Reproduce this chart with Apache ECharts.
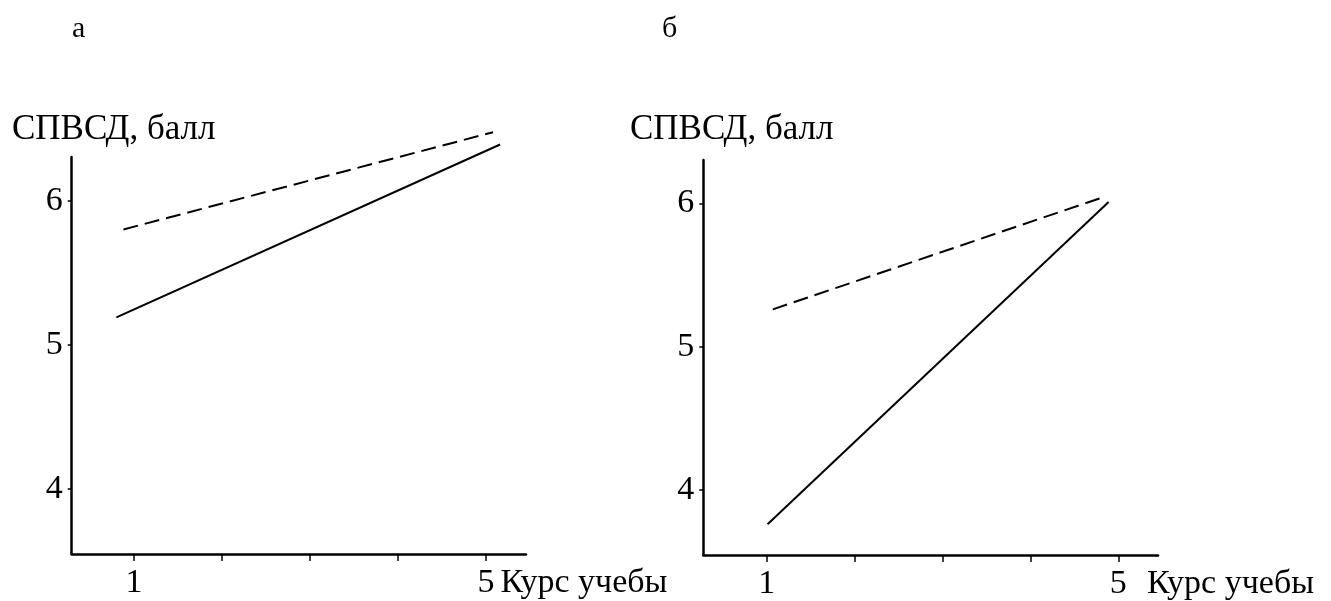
<!DOCTYPE html>
<html><head><meta charset="utf-8">
<script src="https://cdn.jsdelivr.net/npm/echarts@6/dist/echarts.min.js"></script>
<style>html,body{margin:0;padding:0;background:#fff}#c{width:1331px;height:601px}</style>
</head><body><div id="c"></div>
<script>
// ---- data ----
const courseTicks = [1, 2, 3, 4, 5];
const courseLabels = [1, 5];
const scoreTicks = [4, 5, 6];
const panelTitles = ['а', 'б'];
const yName = 'СПВСД, балл';
const xName = 'Курс учебы';
// panel а
const aDashedX = [0.88, 5.08];
const aDashedY = [5.80, 6.475];
const aSolidX = [0.80, 5.16];
const aSolidY = [5.19, 6.39];
// panel б
const bDashedX = [1.07, 4.86];
const bDashedY = [5.26, 6.05];
const bSolidX = [1.01, 4.89];
const bSolidY = [3.76, 6.01];

const FONT = 'Liberation Serif';
const BLACK = '#000';
function pairs(xs, ys) { return xs.map((x, i) => [x, ys[i]]); }

function xAxis(gridIndex, min, max, nameGap) {
  return {
    type: 'value', gridIndex, min, max,
    axisLine: { show: true, onZero: false, lineStyle: { color: BLACK, width: 2.5 } },
    axisTick: { show: true, customValues: courseTicks, length: 7, lineStyle: { color: BLACK, width: 1.5 } },
    axisLabel: { customValues: courseLabels, fontSize: 34, fontFamily: FONT, color: BLACK, margin: 12 },
    splitLine: { show: false },
    name: xName, nameLocation: 'end', nameGap,
    nameTextStyle: { fontSize: 34, fontFamily: FONT, color: BLACK, align: 'left', verticalAlign: 'top', padding: [12, 0, 0, 0] }
  };
}
function yAxis(gridIndex, min, max) {
  return {
    type: 'value', gridIndex, min, max,
    axisLine: { show: true, onZero: false, lineStyle: { color: BLACK, width: 2.5 } },
    axisTick: { show: true, customValues: scoreTicks, length: 4, lineStyle: { color: BLACK, width: 1.5 } },
    axisLabel: { customValues: scoreTicks, fontSize: 34, fontFamily: FONT, color: BLACK, margin: 9 },
    splitLine: { show: false }
  };
}
function line(xi, data, dashed) {
  return {
    type: 'line', xAxisIndex: xi, yAxisIndex: xi, data, showSymbol: false, symbol: 'none', clip: false,
    lineStyle: { color: BLACK, width: 2, type: dashed ? [15, 7] : 'solid' }, silent: true
  };
}
const titleStyle = (size) => ({ fontSize: size, fontWeight: 'normal', fontFamily: FONT, color: BLACK });

const chart = echarts.init(document.getElementById('c'));
chart.setOption({
  animation: false,
  backgroundColor: '#fff',
  title: [
    { text: panelTitles[0], left: 72, top: 14, padding: 0, textStyle: titleStyle(30) },
    { text: panelTitles[1], left: 662, top: 14, padding: 0, textStyle: titleStyle(30) },
    { text: yName, left: 12, top: 112, padding: 0, textStyle: titleStyle(35) },
    { text: yName, left: 630, top: 112, padding: 0, textStyle: titleStyle(35) }
  ],
  grid: [
    { left: 71.7, top: 157, width: 454.3, height: 397 },
    { left: 703.3, top: 160, width: 454.7, height: 397.7 }
  ],
  xAxis: [xAxis(0, 0.292, 5.4545, -27), xAxis(1, 0.279, 5.452, -11)],
  yAxis: [yAxis(0, 3.547, 6.303), yAxis(1, 3.545, 6.303)],
  series: [
    line(0, pairs(aDashedX, aDashedY), true),
    line(0, pairs(aSolidX, aSolidY), false),
    line(1, pairs(bDashedX, bDashedY), true),
    line(1, pairs(bSolidX, bSolidY), false)
  ]
});
</script></body></html>
